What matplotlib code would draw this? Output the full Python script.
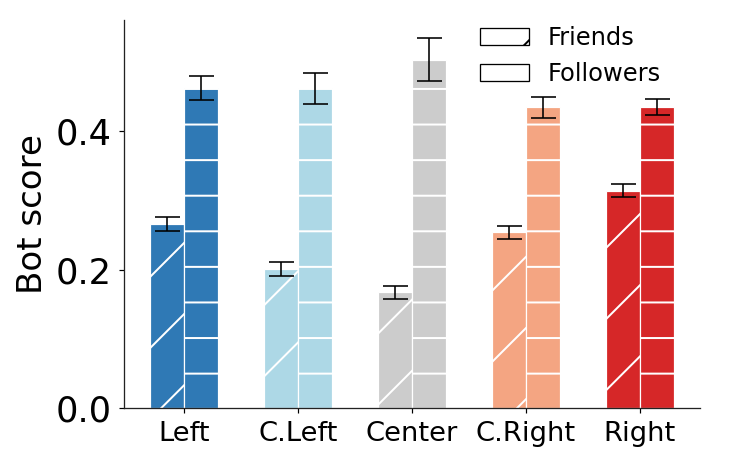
import numpy as np
import matplotlib
matplotlib.use("Agg")
import matplotlib.pyplot as plt
from matplotlib.patches import Patch

# Data
groups = ["Left", "C.Left", "Center", "C.Right", "Right"]
friends = [0.266, 0.201, 0.167, 0.254, 0.314]
friends_err = [0.010, 0.010, 0.009, 0.0095, 0.009]
followers = [0.462, 0.462, 0.503, 0.4345, 0.4345]
followers_err = [0.0175, 0.022, 0.031, 0.015, 0.0114]
colors = ["#2f79b5", "#add8e6", "#cccccc", "#f4a582", "#d62728"]

# high dpi so the hatch pattern comes out as sparse as in the reference
DPI = 427
K = 100.0 / DPI  # converts "points at 100 dpi" into points at DPI
PX = 72.0 / DPI  # one pixel in points

plt.rcParams["hatch.linewidth"] = 2.0 * PX
plt.rcParams["font.family"] = "DejaVu Sans"

fig = plt.figure(figsize=(732 / DPI, 461 / DPI), dpi=DPI)
ax = fig.add_axes([124 / 732, 53 / 461, 576 / 732, 388 / 461])

x = np.arange(len(groups))
width = 0.3
err_style = dict(ecolor="black", elinewidth=1.6 * PX,
                 capsize=12.5 * PX, capthick=1.6 * PX)

ax.bar(x - width / 2, friends, width, yerr=friends_err, color=colors,
       edgecolor="white", linewidth=1.2 * PX, hatch="//", error_kw=err_style)
ax.bar(x + width / 2, followers, width, yerr=followers_err, color=colors,
       edgecolor="white", linewidth=1.2 * PX, hatch="--", error_kw=err_style)

ax.set_xticks(x)
ax.set_xticklabels(groups, fontsize=19.7 * K)
ax.set_yticks([0.0, 0.2, 0.4])
ax.tick_params(axis="y", labelsize=25.3 * K, length=5 * PX,
               width=1.2 * PX, pad=7 * PX)
ax.tick_params(axis="x", length=5 * PX, width=1.2 * PX, pad=7.5 * PX)
ax.set_ylabel("Bot score", fontsize=24.5 * K, labelpad=7 * PX)

for side in ["top", "right"]:
    ax.spines[side].set_visible(False)
for side in ["left", "bottom"]:
    ax.spines[side].set_linewidth(1.3 * PX)
    ax.spines[side].set_color("#222222")

handles = [Patch(facecolor="white", edgecolor="black", hatch="//",
                 linewidth=1.3 * PX, label="Friends"),
           Patch(facecolor="white", edgecolor="black",
                 linewidth=1.3 * PX, label="Followers")]
ax.legend(handles=handles, loc="upper right", frameon=False,
          fontsize=17.4 * K, bbox_to_anchor=(0.97, 1.04))

fig.savefig("out.png", dpi=DPI)
